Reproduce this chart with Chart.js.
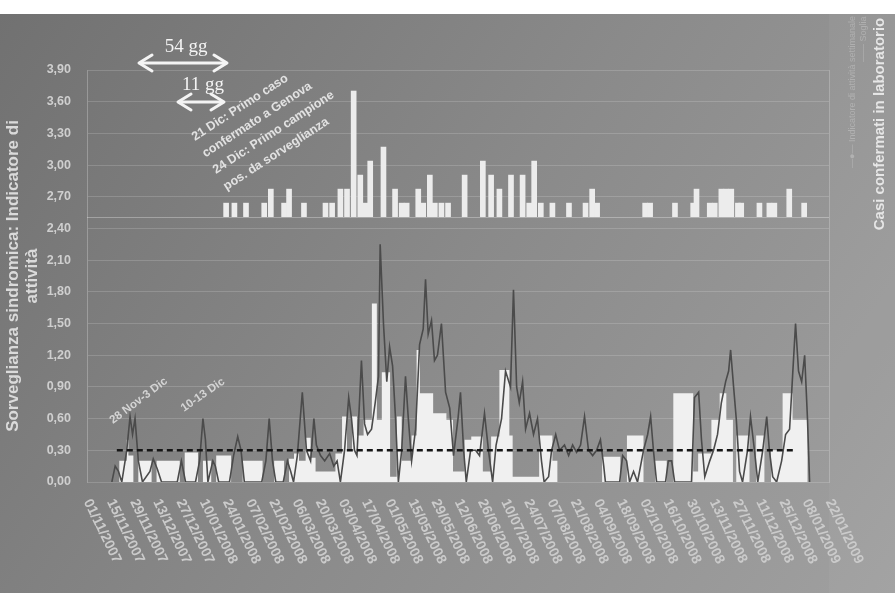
<!DOCTYPE html>
<html>
<head>
<meta charset="utf-8">
<script src="https://cdn.jsdelivr.net/npm/chart.js@4.4.0/dist/chart.umd.min.js"></script>
<style>
  html, body { margin: 0; padding: 0; background: #fff; }
  #grafico { display: block; }
</style>
</head>
<body>
<canvas id="grafico" width="895" height="593"></canvas>
<script>
// giorni contati dal 01/11/2007
const etichette = [
  '01/11/2007', '15/11/2007', '29/11/2007', '13/12/2007', '27/12/2007',
  '10/01/2008', '24/01/2008', '07/02/2008', '21/02/2008', '06/03/2008',
  '20/03/2008', '03/04/2008', '17/04/2008', '01/05/2008', '15/05/2008',
  '29/05/2008', '12/06/2008', '26/06/2008', '10/07/2008', '24/07/2008',
  '07/08/2008', '21/08/2008', '04/09/2008', '18/09/2008', '02/10/2008',
  '16/10/2008', '30/10/2008', '13/11/2008', '27/11/2008', '11/12/2008',
  '25/12/2008', '08/01/2009', '22/01/2009'
];
const passoEtichette = 14;

// casi confermati in laboratorio (asse destro)
const casiGiorno = [84, 89, 96, 107, 111, 119, 122, 131, 144, 148, 153, 157, 161, 165, 168, 171, 179, 186, 190, 193,
  200, 203, 207, 210, 214, 218, 228, 239, 244, 249, 256, 263, 267, 270, 274, 281, 291, 301, 305, 308,
  337, 340, 355, 366, 368, 376, 379, 383, 386, 389, 393, 395, 406, 412, 415, 424, 433];
const casiN = [1, 1, 1, 1, 2, 1, 2, 1, 1, 1, 2, 2, 9, 3, 1, 4, 5, 2, 1, 1,
  2, 1, 3, 1, 1, 1, 3, 4, 3, 2, 3, 3, 1, 4, 1, 1, 1, 1, 2, 1,
  1, 1, 1, 1, 2, 1, 1, 2, 2, 2, 1, 1, 1, 1, 1, 2, 1];

// indicatore di attività giornaliero (linea scura)
const indGiorno = [15, 17, 19, 21, 24, 26, 27.5, 29, 31, 33.5, 38, 40, 42.5, 45, 54.5, 57, 59.5, 65.5, 68, 70,
  71.5, 73, 76, 77.5, 79.5, 86, 88.5, 91, 93, 95, 105.5, 108, 110, 112, 114, 118.5, 121, 123, 124.7, 127,
  130, 132.5, 135, 137, 138.5, 141, 143.5, 146.5, 149, 151, 153, 155.5, 158, 159.7, 161.5, 163, 165.7, 167.6, 169.4, 171.8,
  174, 176, 177, 179, 181, 182.7, 184.5, 186.3, 188, 190, 192.3, 194, 196, 198.4, 200.8, 203, 204.4, 206, 208, 209.8,
  211.6, 214, 216.5, 219, 221.3, 224, 225.5, 227.4, 229, 231.6, 234.6, 237, 240, 242.4, 244.9, 247, 250.3, 252.7, 255.7, 257.5,
  259.4, 261, 263, 264.8, 267.2, 269.6, 272, 274.4, 276, 278.7, 280.5, 283, 285.3, 288.3, 290.8, 293.2, 295.6, 298, 300.4, 302.8,
  305.3, 307.7, 310, 312, 313, 321.6, 323.4, 325.8, 327.6, 330, 332.4, 336, 338.5, 340.3, 342, 343.9, 349.3, 351, 353, 354.8,
  365, 366.8, 369.3, 371, 373, 376, 378.3, 380.7, 383, 385.6, 387.4, 388.6, 390.4, 392, 394, 395.8, 398.8, 400.6, 403, 405,
  408, 410.4, 412, 414, 416.4, 419.4, 421.8, 424.2, 426, 427.8, 429.6, 431.5, 433.3, 435, 436.3];
const indValori = [0, 0.15, 0.1, 0, 0.3, 0.62, 0.45, 0.6, 0.2, 0, 0.1, 0.22, 0.12, 0, 0, 0.2, 0, 0, 0.2, 0.6,
  0.4, 0, 0.2, 0.15, 0, 0, 0.25, 0.43, 0.3, 0, 0, 0.2, 0.6, 0.2, 0, 0, 0.2, 0.1, 0, 0.25,
  0.85, 0.3, 0.2, 0.6, 0.35, 0.25, 0.2, 0.27, 0.15, 0.2, 0, 0.3, 0.8, 0.6, 0.3, 0.25, 1.15, 0.55, 0.45, 0.5,
  0.75, 1.0, 2.25, 1.5, 0.95, 1.28, 1.1, 0.6, 0, 0.3, 1.0, 0.6, 0.2, 0.5, 1.3, 1.45, 1.92, 1.4, 1.53, 1.15,
  1.2, 1.5, 0.85, 0.7, 0.25, 0.6, 0.85, 0.3, 0, 0.3, 0.3, 0.25, 0.65, 0.3, 0, 0.35, 0.6, 1.05, 0.9, 1.82,
  0.9, 0.75, 0.95, 0.5, 0.65, 0.45, 0.6, 0.2, 0, 0.05, 0.3, 0.45, 0.3, 0.35, 0.25, 0.35, 0.28, 0.35, 0.62, 0.3,
  0.25, 0.3, 0.4, 0.15, 0, 0, 0.25, 0.2, 0, 0.1, 0, 0.3, 0.45, 0.62, 0.3, 0, 0, 0.2, 0.2, 0,
  0, 0.8, 0.85, 0.4, 0.05, 0.2, 0.3, 0.45, 0.75, 0.95, 1.05, 1.25, 0.9, 0.6, 0.1, 0, 0.3, 0.62, 0.3, 0,
  0.3, 0.62, 0.3, 0.05, 0, 0.2, 0.45, 0.5, 1.0, 1.5, 1.05, 0.95, 1.2, 0.6, 0];

// media dell'indicatore (area bianca a gradini)
const mediaGiorno = [15, 19.5, 24, 25, 28, 31, 39, 42, 56, 59, 67, 70, 75, 78, 87, 94, 106, 113, 119, 122,
  125, 128, 132, 135, 138, 150, 154, 157, 160, 163, 167, 172, 175, 178, 183, 187, 190, 196, 199, 201,
  209, 217, 221, 228, 232, 239, 244, 249, 255, 257, 273, 281, 284, 311, 322, 326, 336, 343, 350, 354,
  366, 369, 377, 382, 386, 390, 392, 400, 404, 409, 413, 420, 426, 435, 436.5];
const mediaValori = [0.15, 0, 0.2, 0.4, 0.25, 0, 0.2, 0, 0.2, 0, 0.28, 0, 0.2, 0, 0.25, 0, 0.2, 0, 0.2, 0,
  0.22, 0.27, 0.2, 0.42, 0.23, 0.1, 0.27, 0.62, 0.3, 0.62, 0.44, 0.59, 1.69, 0.59, 1.04, 0.05, 0.62, 0.2, 0.44, 1.25,
  0.84, 0.65, 0.59, 0.1, 0.4, 0.43, 0.1, 0.43, 1.06, 0.44, 0.05, 0.44, 0.2, 0, 0.24, 0, 0.44, 0, 0.2, 0,
  0.84, 0.1, 0.27, 0.59, 0.84, 0.59, 0, 0.44, 0, 0.44, 0, 0.3, 0.84, 0.59, 0];

// soglia di allerta
const sogliaGiorni = [18, 428];
const sogliaValore = 0.3;

const coppie = (xs, ys) => xs.map((x, i) => ({ x: x, y: ys[i] }));

Chart.defaults.font.family = '"Liberation Sans", Arial, sans-serif';

const sfondo = {
  id: 'sfondo',
  beforeDraw(chart) {
    const { ctx, width, height } = chart;
    ctx.save();
    ctx.fillStyle = '#ffffff';
    ctx.fillRect(0, 0, width, height);
    const g = ctx.createLinearGradient(0, 14, width, height);
    g.addColorStop(0, '#717171');
    g.addColorStop(0.5, '#8a8a8a');
    g.addColorStop(1, '#a0a0a0');
    ctx.fillStyle = g;
    ctx.fillRect(0, 14, width, height - 14);
    // fascia dell'asse destro
    ctx.fillStyle = 'rgba(255,255,255,0.04)';
    ctx.fillRect(chart.chartArea.right, 14, width - chart.chartArea.right, height - 14);
    ctx.restore();
  }
};

function frecciaDoppia(ctx, x1, x2, y) {
  ctx.beginPath();
  ctx.moveTo(x1 + 2, y);
  ctx.lineTo(x2 - 2, y);
  ctx.stroke();
  ctx.beginPath();
  ctx.moveTo(x1 + 13, y - 8);
  ctx.lineTo(x1, y);
  ctx.lineTo(x1 + 13, y + 8);
  ctx.moveTo(x2 - 13, y - 8);
  ctx.lineTo(x2, y);
  ctx.lineTo(x2 - 13, y + 8);
  ctx.stroke();
}

function testoRuotato(ctx, testo, x, y, gradi) {
  ctx.save();
  ctx.translate(x, y);
  ctx.rotate(gradi * Math.PI / 180);
  ctx.fillText(testo, 0, 0);
  ctx.restore();
}

const decorazioni = {
  id: 'decorazioni',
  afterDraw(chart) {
    const { ctx, chartArea } = chart;
    const sx = chart.scales.x;
    ctx.save();

    // etichette delle date, ruotate verso il basso
    ctx.font = 'bold 14px "Liberation Sans", Arial, sans-serif';
    ctx.fillStyle = '#cbcbcb';
    ctx.textAlign = 'left';
    ctx.textBaseline = 'middle';
    etichette.forEach((t, i) => {
      testoRuotato(ctx, t, sx.getPixelForValue(i * passoEtichette), chartArea.bottom + 18, 64);
    });

    // titolo asse destro
    ctx.font = 'bold 15px "Liberation Sans", Arial, sans-serif';
    ctx.fillStyle = '#e6e6e6';
    ctx.textAlign = 'center';
    testoRuotato(ctx, 'Casi confermati in laboratorio', 880, 124, -90);

    // legenda
    ctx.font = '9px "Liberation Sans", Arial, sans-serif';
    ctx.fillStyle = 'rgba(215,215,215,0.4)';
    ctx.textAlign = 'left';
    testoRuotato(ctx, '—●— Indicatore di attività settimanale', 853, 168, -90);
    testoRuotato(ctx, '—— Soglia', 864, 62, -90);

    // intervalli
    ctx.strokeStyle = '#f4f4f4';
    ctx.lineWidth = 3;
    ctx.lineJoin = 'round';
    ctx.lineCap = 'round';
    frecciaDoppia(ctx, 139, 227, 63);
    frecciaDoppia(ctx, 178, 224, 102);
    ctx.font = '19px "Liberation Serif", "DejaVu Serif", serif';
    ctx.fillStyle = '#f4f4f4';
    ctx.textAlign = 'center';
    ctx.fillText('54 gg', 186, 47);
    ctx.fillText('11 gg', 203, 85);

    // note sui primi casi
    ctx.font = 'bold 12.5px "Liberation Sans", Arial, sans-serif';
    ctx.fillStyle = '#e2e2e2';
    ctx.textAlign = 'left';
    ctx.textBaseline = 'alphabetic';
    const note = ['21 Dic: Primo caso', 'confermato a Genova', '24 Dic: Primo campione', 'pos. da sorveglianza'];
    note.forEach((t, i) => testoRuotato(ctx, t, 195 + i * 10.5, 141 + i * 16.5, -33));

    ctx.font = 'bold 11.5px "Liberation Sans", Arial, sans-serif';
    ctx.fillStyle = '#d4d4d4';
    testoRuotato(ctx, '28 Nov-3 Dic', 113, 424, -37);
    testoRuotato(ctx, '10-13 Dic', 184, 412, -35);

    ctx.restore();
  }
};

new Chart(document.getElementById('grafico'), {
  type: 'bar',
  data: {
    datasets: [
      {
        type: 'line',
        label: 'Soglia',
        data: coppie(sogliaGiorni, [sogliaValore, sogliaValore]),
        borderColor: '#151515',
        borderWidth: 2.5,
        borderDash: [6, 4],
        pointRadius: 0,
        yAxisID: 'y',
        order: 0
      },
      {
        type: 'line',
        label: 'Indicatore di attività',
        data: coppie(indGiorno, indValori),
        borderColor: '#4b4b4b',
        borderWidth: 1.6,
        pointRadius: 0,
        tension: 0,
        yAxisID: 'y',
        order: 1
      },
      {
        type: 'line',
        label: 'Media',
        data: coppie(mediaGiorno, mediaValori),
        stepped: 'after',
        fill: 'origin',
        backgroundColor: '#f0f0f0',
        borderWidth: 0,
        pointRadius: 0,
        yAxisID: 'y',
        order: 2
      },
      {
        type: 'bar',
        label: 'Casi confermati',
        data: coppie(casiGiorno, casiN),
        backgroundColor: '#ececec',
        barThickness: 5,
        yAxisID: 'y2',
        order: 3
      }
    ]
  },
  options: {
    responsive: false,
    animation: false,
    layout: { padding: { top: 70, left: 0, right: 0, bottom: 0 } },
    plugins: {
      legend: { display: false },
      tooltip: { enabled: false }
    },
    scales: {
      x: {
        type: 'linear',
        offset: false,
        min: 0,
        max: etichette.length * passoEtichette - passoEtichette,
        afterFit(s) { s.height = 111; },
        ticks: { display: false },
        grid: { display: false, offset: false },
        border: { display: false }
      },
      y: {
        position: 'left',
        min: 0,
        max: 3.9,
        afterFit(s) { s.width = 87; },
        ticks: {
          stepSize: 0.3,
          color: '#cfcfcf',
          padding: 16,
          font: { size: 12.5, weight: 'bold' },
          callback: v => v.toFixed(2).replace('.', ',')
        },
        grid: { color: 'rgba(255,255,255,0.16)', drawTicks: false },
        border: { color: 'rgba(255,255,255,0.25)' },
        title: {
          display: true,
          text: ['Sorveglianza sindromica: Indicatore di', 'attività'],
          color: '#dadada',
          font: { size: 17, weight: 'bold', lineHeight: 1.1 },
          padding: { top: 4, bottom: 0 }
        }
      },
      y2: {
        position: 'right',
        min: -18.9,
        max: 10.5,
        afterFit(s) { s.width = 66; },
        ticks: { display: false, stepSize: 1 },
        grid: {
          drawTicks: false,
          color: c => (c.tick && c.tick.value === 0) ? 'rgba(255,255,255,0.3)' : 'rgba(0,0,0,0)'
        },
        border: { color: 'rgba(255,255,255,0.2)' }
      }
    }
  },
  plugins: [sfondo, decorazioni]
});
</script>
</body>
</html>
